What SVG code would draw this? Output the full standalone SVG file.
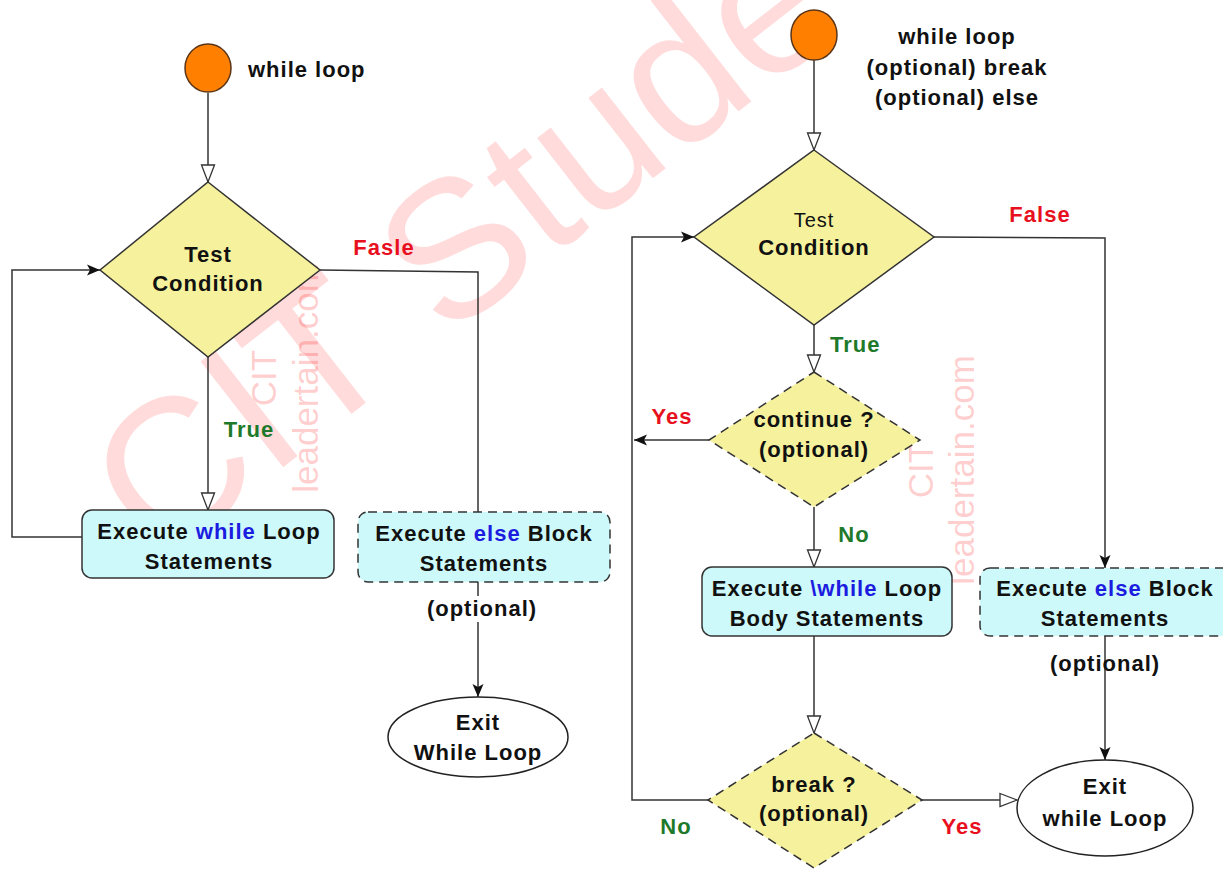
<svg xmlns="http://www.w3.org/2000/svg" width="1223" height="869" viewBox="0 0 1223 869">
<style>
.t{font-family:"Liberation Sans",Arial,sans-serif;font-weight:bold;font-size:22px;fill:#111;text-anchor:middle;letter-spacing:1px}
.n{font-weight:normal}
.red{fill:#e8101e}
.grn{fill:#1e7a2a}
.blu{fill:#1c1ce0}
.dia{fill:#f6f19c;stroke:#333;stroke-width:1.5}
.box{fill:#cdf9fa;stroke:#333;stroke-width:1.5}
.dash{stroke-dasharray:9 6}
.start{fill:#ff8000;stroke:#5a3518;stroke-width:1.5}
.exit{fill:#fff;stroke:#222;stroke-width:1.5}
.wm{font-family:"Liberation Sans",Arial,sans-serif;fill:#ff0000;fill-opacity:0.14}
.wms{font-family:"Liberation Sans",Arial,sans-serif;fill:#ff0000;fill-opacity:0.2;font-size:35px;text-anchor:middle}
#connectors path{fill:none;stroke:#333;stroke-width:1.5}
</style>
<defs>
<marker id="hollow" markerUnits="userSpaceOnUse" markerWidth="20" markerHeight="16" refX="18" refY="8" orient="auto">
<path d="M1,1.5 L18,8 L1,14.5 Z" fill="#fff" stroke="#333" stroke-width="1.3"/>
</marker>
<marker id="filled" markerUnits="userSpaceOnUse" markerWidth="14" markerHeight="12" refX="13" refY="6" orient="auto">
<path d="M0,0.5 L13,6 L0,11.5 L3,6 Z" fill="#111"/>
</marker>
</defs>
<rect width="1223" height="869" fill="#fff"/>
<g id="watermark">
<text class="wm" font-size="195" transform="translate(158,565) rotate(-38)">CIT Stude</text>
<text class="wms" transform="translate(276,378) rotate(-90)">CIT</text>
<text class="wms" transform="translate(318,378) rotate(-90)">leadertain.com</text>
<text class="wms" transform="translate(933,470) rotate(-90)">CIT</text>
<text class="wms" transform="translate(974,470) rotate(-90)">leadertain.com</text>
</g>
<g id="connectors">
<path d="M208,93 V182" marker-end="url(#hollow)"/>
<path d="M208,357 V510" marker-end="url(#hollow)"/>
<path d="M82,537 H12 V270 H100" marker-end="url(#filled)"/>
<path d="M320,270 L478,272 V512"/>
<path d="M478,582 V697" marker-end="url(#filled)"/>
<path d="M814,60 V150" marker-end="url(#hollow)"/>
<path d="M814,325 V372" marker-end="url(#hollow)"/>
<path d="M709,440 H634" marker-end="url(#filled)"/>
<path d="M814,507 V567" marker-end="url(#hollow)"/>
<path d="M814,636 V733" marker-end="url(#hollow)"/>
<path d="M708,800 H632 V237 H694" marker-end="url(#filled)"/>
<path d="M922,800 H1017" marker-end="url(#hollow)"/>
<path d="M934,237 L1105,238 V568" marker-end="url(#filled)"/>
<path d="M1105,636 V760" marker-end="url(#filled)"/>
</g>
<g id="start1">
<ellipse class="start" cx="208" cy="68" rx="23" ry="24"/>
<text class="t" x="248" y="77" style="text-anchor:start">while loop</text>
</g>
<g id="test1">
<polygon class="dia" points="208,182 320,270 208,357 100,270"/>
<text class="t" x="208" y="262">Test</text>
<text class="t" x="208" y="291">Condition</text>
</g>
<g id="labels1">
<text class="t red" x="384" y="255">Fasle</text>
<text class="t grn" x="249" y="437">True</text>
</g>
<g id="body1">
<rect class="box" x="82" y="510" width="252" height="68" rx="10"/>
<text class="t" x="209" y="539">Execute <tspan class="blu">while</tspan> Loop</text>
<text class="t" x="209" y="569">Statements</text>
</g>
<g id="else1">
<rect class="box dash" x="358" y="512" width="252" height="70" rx="10"/>
<text class="t" x="484" y="541">Execute <tspan class="blu">else</tspan> Block</text>
<text class="t" x="484" y="571">Statements</text>
<rect x="428" y="596" width="108" height="26" fill="#fff"/>
<text class="t" x="482" y="616">(optional)</text>
</g>
<g id="exit1">
<ellipse class="exit" cx="478" cy="737" rx="90" ry="40"/>
<text class="t" x="478" y="730">Exit</text>
<text class="t" x="478" y="760">While Loop</text>
</g>
<g id="start2">
<ellipse class="start" cx="814" cy="35" rx="23" ry="25"/>
<text class="t" x="957" y="44">while loop</text>
<text class="t" x="957" y="75">(optional) break</text>
<text class="t" x="957" y="105">(optional) else</text>
</g>
<g id="test2">
<polygon class="dia" points="814,150 934,237 814,325 694,237"/>
<text class="t n" x="814" y="227" style="font-size:20px">Test</text>
<text class="t" x="814" y="255">Condition</text>
</g>
<g id="labels2">
<text class="t red" x="1040" y="222">False</text>
<text class="t grn" x="830" y="352" style="text-anchor:start">True</text>
<text class="t red" x="672" y="424">Yes</text>
<text class="t grn" x="854" y="542">No</text>
<text class="t red" x="962" y="834">Yes</text>
<text class="t grn" x="676" y="834">No</text>
</g>
<g id="continue2">
<polygon class="dia dash" points="814,372 920,440 814,507 709,440"/>
<text class="t" x="814" y="427">continue ?</text>
<text class="t" x="814" y="457">(optional)</text>
</g>
<g id="body2">
<rect class="box" x="702" y="567" width="250" height="69" rx="10"/>
<text class="t" x="827" y="596">Execute <tspan class="blu">\while</tspan> Loop</text>
<text class="t" x="827" y="626">Body Statements</text>
</g>
<g id="else2">
<rect class="box dash" x="980" y="568" width="252" height="68" rx="10"/>
<text class="t" x="1105" y="596">Execute <tspan class="blu">else</tspan> Block</text>
<text class="t" x="1105" y="626">Statements</text>
<text class="t" x="1105" y="671">(optional)</text>
</g>
<g id="break2">
<polygon class="dia dash" points="814,733 922,800 814,868 708,800"/>
<text class="t" x="814" y="792">break ?</text>
<text class="t" x="814" y="821">(optional)</text>
</g>
<g id="exit2">
<ellipse class="exit" cx="1105" cy="808" rx="88" ry="48"/>
<text class="t" x="1105" y="794">Exit</text>
<text class="t" x="1105" y="826">while Loop</text>
</g>
</svg>
